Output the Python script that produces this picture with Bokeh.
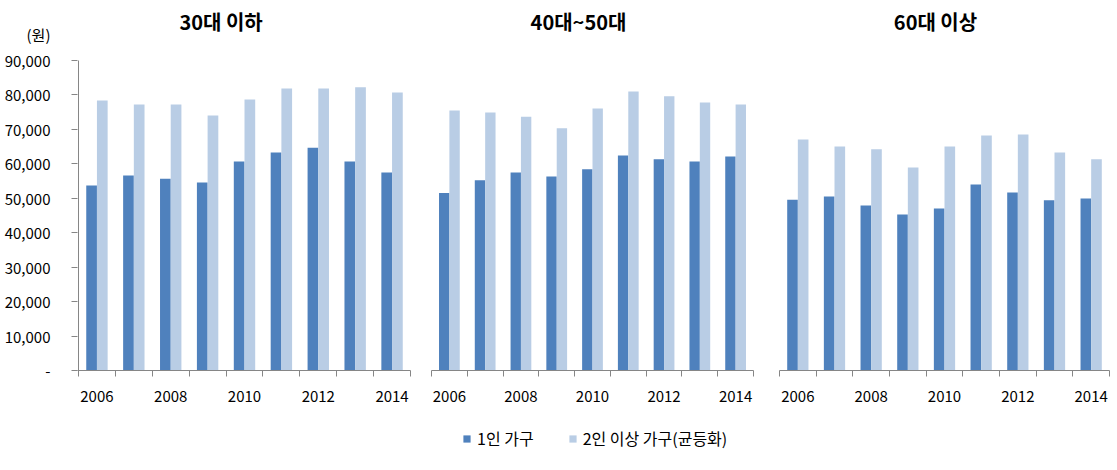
from bokeh.plotting import figure
from bokeh.models import (ColumnDataSource, Range1d, FixedTicker, NumeralTickFormatter,
                          Label, Legend, LegendItem)
from bokeh.layouts import row, column
from bokeh.transform import dodge
from bokeh.embed import file_html
from bokeh.resources import INLINE

years = [2006, 2007, 2008, 2009, 2010, 2011, 2012, 2013, 2014]
tick_years = [2006, 2008, 2010, 2012, 2014]
panel_titles = ["30대 이하", "40대~50대", "60대 이상"]
series_names = ["1인 가구", "2인 이상 가구(균등화)"]
unit_label = "(원)"
y_ticks = [0, 10000, 20000, 30000, 40000, 50000, 60000, 70000, 80000, 90000]

one_30s = [53700, 56600, 55700, 54600, 60700, 63300, 64700, 60700, 57500]
two_30s = [78400, 77200, 77200, 74000, 78700, 81900, 81900, 82200, 80700]
one_4050 = [51500, 55200, 57500, 56300, 58400, 62400, 61300, 60700, 62100]
two_4050 = [75500, 74900, 73700, 70300, 76100, 81000, 79600, 77800, 77200]
one_60 = [49600, 50500, 47900, 45300, 47000, 54000, 51700, 49400, 49900]
two_60 = [67100, 65000, 64200, 58900, 65000, 68200, 68500, 63300, 61300]

DARK = "#4F81BD"
LIGHT = "#B9CDE5"
AXIS = "#868686"
FONT = "Noto Sans CJK KR"

# layout in pixels
FRAME_H = 370          # frame from top of canvas to x-axis
PLOT_TOP = 60          # pixel row of the top y tick
FIG_H = 410
LEG_H = 470 - FIG_H
YMAX = max(y_ticks) * FRAME_H / (FRAME_H - PLOT_TOP)

def py_to_data(py):
    return (FRAME_H - py) / FRAME_H * YMAX

# (one, two, fig width, border left, border right, frame width, title centre px rel. frame)
panels = [
    (one_30s, two_30s, 420, 77, 10, 333, 143),
    (one_4050, two_4050, 346, 11, 13, 322, 147),
    (one_60, two_60, 351, 13, 8, 330, 156),
]

figs = []
for i, (one, two, w, bl, br, fw, tx) in enumerate(panels):
    src = ColumnDataSource(dict(year=years, one=one, two=two))
    x0 = years[0] - 0.5
    x1 = years[-1] + 0.5
    if i == 0:
        x0 = x0 - (x1 - x0) / (fw - 1)  # one pixel of room for the drawn y-axis line
    p = figure(width=w, height=FIG_H, output_backend="svg", toolbar_location=None,
               x_range=Range1d(x0, x1), y_range=Range1d(0, YMAX),
               min_border_left=bl, min_border_right=br, min_border_top=0,
               min_border_bottom=FIG_H - FRAME_H)
    p.outline_line_color = None
    p.grid.grid_line_color = None
    p.background_fill_color = "white"
    p.border_fill_color = "white"
    p.vbar(x=dodge("year", -0.145, range=p.x_range), top="one", width=0.29,
           source=src, fill_color=DARK, line_color=None)
    p.vbar(x=dodge("year", 0.145, range=p.x_range), top="two", width=0.29,
           source=src, fill_color=LIGHT, line_color=None)

    xa = p.xaxis[0]
    xa.ticker = FixedTicker(ticks=tick_years,
                            minor_ticks=[y - 0.5 for y in years] + [years[-1] + 0.5])
    xa.major_tick_out = 0
    xa.major_tick_in = 0
    xa.minor_tick_out = 6
    xa.minor_tick_in = 0
    xa.minor_tick_line_color = AXIS
    xa.axis_line_color = AXIS
    xa.major_label_text_font = FONT
    xa.major_label_text_font_size = "15px"
    xa.major_label_text_color = "black"
    xa.major_label_standoff = 14

    ya = p.yaxis[0]
    if i == 0:
        won_pos = round(py_to_data(34))
        ya.ticker = FixedTicker(ticks=y_ticks + [won_pos], minor_ticks=y_ticks)
        ya.formatter = NumeralTickFormatter(format="0,0")
        ya.major_label_overrides = {0: "-", won_pos: unit_label}
        ya.major_tick_out = 0
        ya.major_tick_in = 0
        ya.minor_tick_out = 6
        ya.minor_tick_in = 0
        ya.minor_tick_line_color = AXIS
        ya.axis_line_color = None
        ya.major_label_text_font = FONT
        ya.major_label_text_font_size = "15px"
        ya.major_label_text_color = "black"
        ya.major_label_standoff = 21
        p.segment(x0=[years[0] - 0.5], y0=[min(y_ticks)], x1=[years[0] - 0.5],
                  y1=[max(y_ticks)], line_color=AXIS, line_width=1)
    else:
        ya.visible = False

    tx_data = years[0] - 0.5 + tx / fw * (years[-1] - years[0] + 1)
    p.add_layout(Label(x=tx_data, y=py_to_data(21), text=panel_titles[i],
                       text_font=FONT, text_font_size="20px",
                       text_font_style="bold", text_align="center",
                       text_baseline="middle", text_color="black"))
    figs.append(p)

# legend strip (its glyph renderers hold the first panel's data, outside the strip's range)
lf = figure(width=1117, height=LEG_H, output_backend="svg", toolbar_location=None,
            x_range=Range1d(0, 1), y_range=Range1d(0, 1),
            min_border=0)
lf.axis.visible = False
lf.grid.grid_line_color = None
lf.outline_line_color = None
lsrc = ColumnDataSource(dict(year=years, one=one_30s, two=two_30s))
l1 = lf.vbar(x="year", top="one", width=0.29, source=lsrc, fill_color=DARK, line_color=None)
l2 = lf.vbar(x="year", top="two", width=0.29, source=lsrc, fill_color=LIGHT, line_color=None)
legend = Legend(items=[LegendItem(label=series_names[0], renderers=[l1]),
                       LegendItem(label=series_names[1], renderers=[l2])],
                location=(462, 20), orientation="horizontal")
legend.background_fill_alpha = 0
legend.border_line_color = None
legend.padding = 0
legend.margin = 0
legend.spacing = 34
legend.glyph_width = 9
legend.glyph_height = 9
legend.label_standoff = 6
legend.label_text_font = FONT
legend.label_text_font_size = "16px"
legend.label_text_color = "black"
lf.add_layout(legend, "center")

layout = column(row(*figs, spacing=0), lf, spacing=0)
open("out.html", "w").write(file_html(layout, INLINE))
